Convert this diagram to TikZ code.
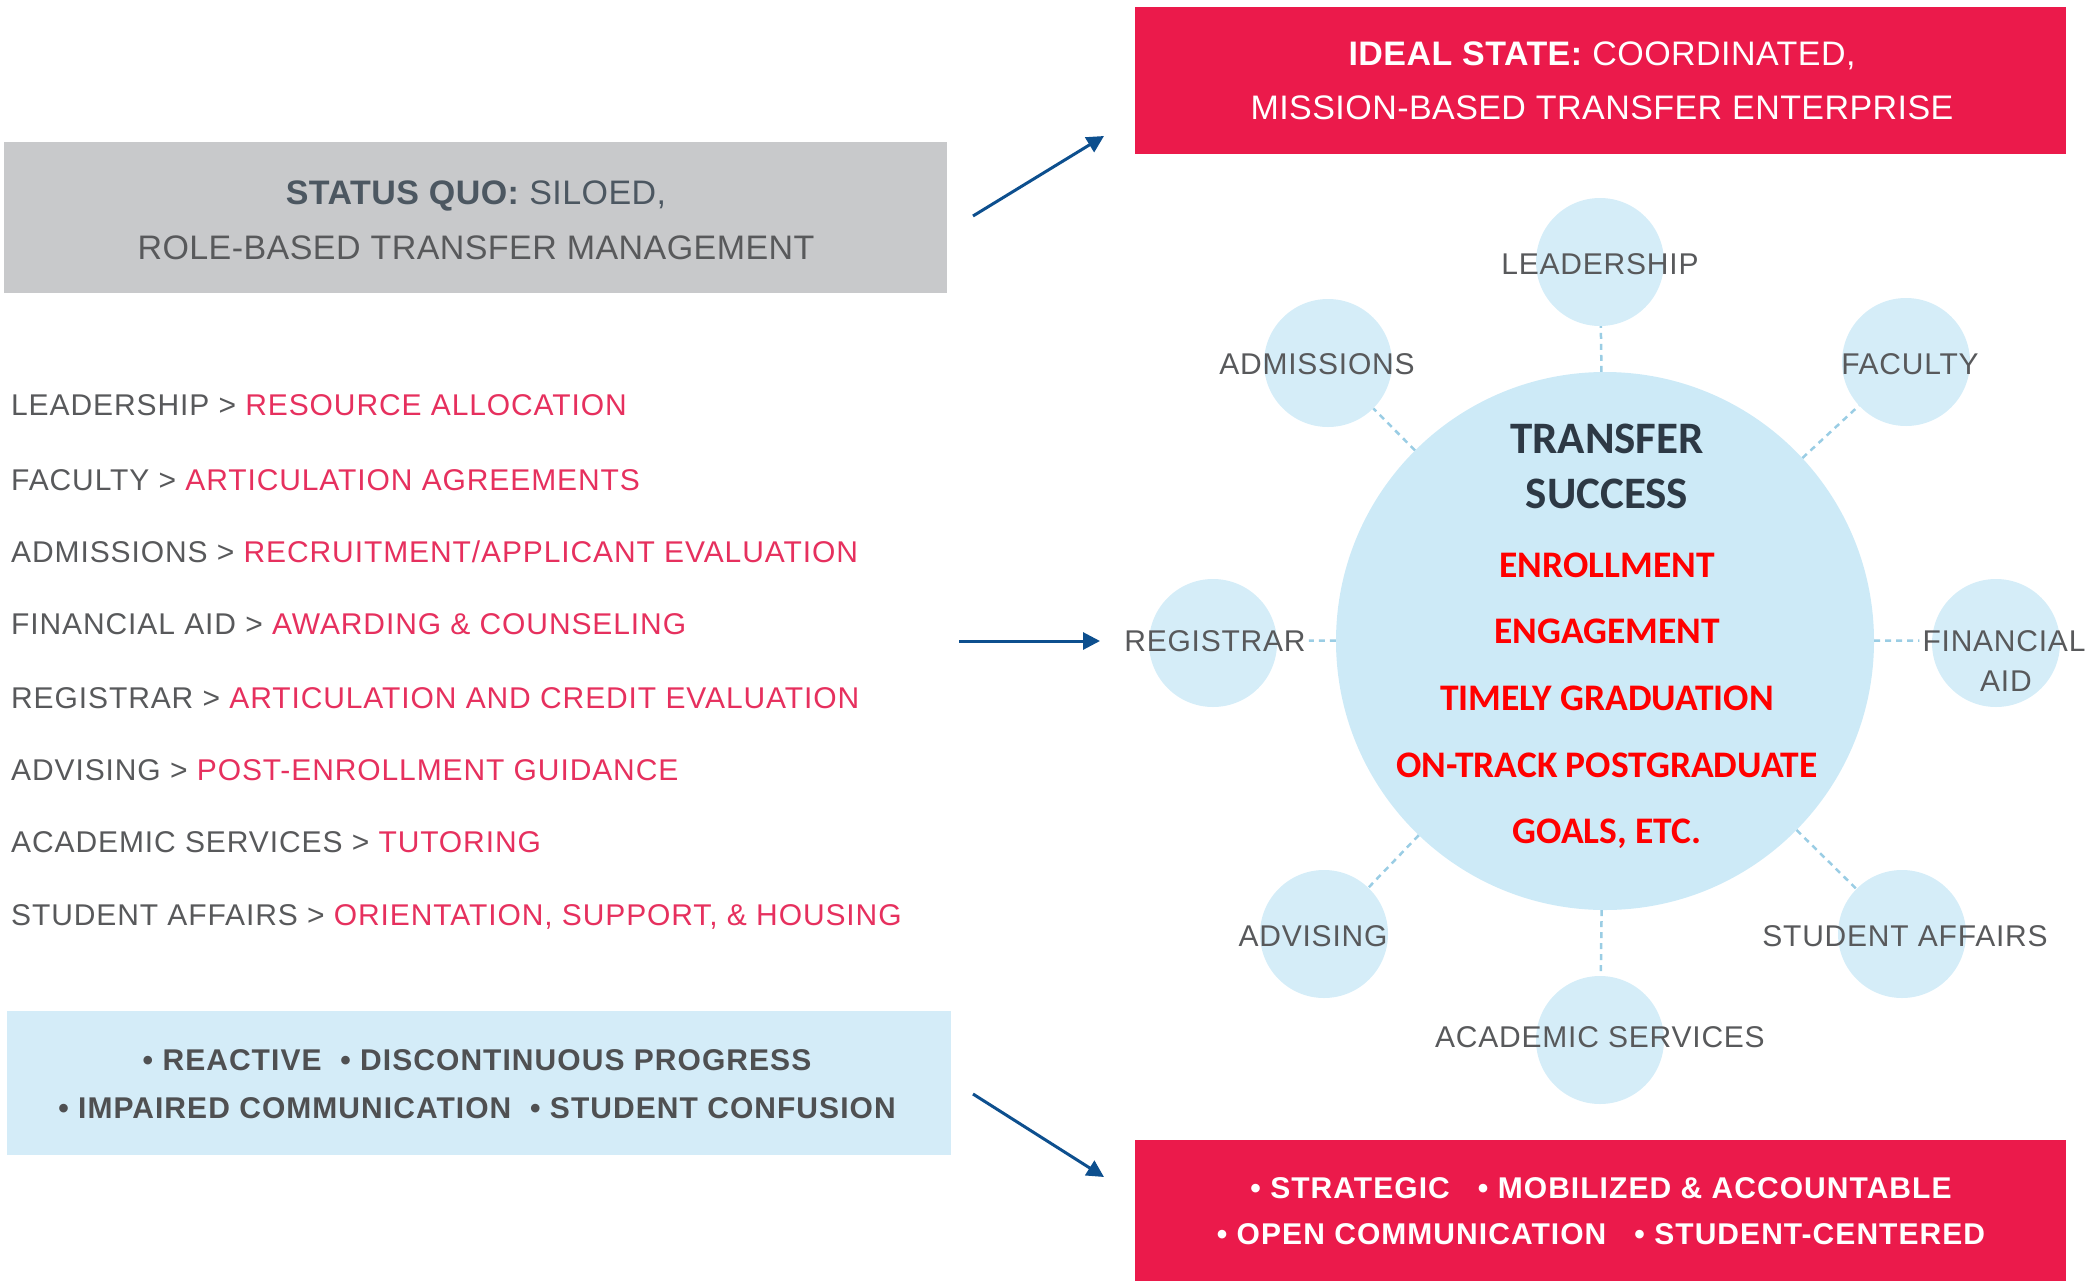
\documentclass[tikz,border=0pt]{standalone}
\usepackage{fontspec}
\setmainfont{Liberation Sans}
\newfontfamily\hubfont{Carlito}
\usetikzlibrary{arrows.meta}

\definecolor{quogray}{HTML}{C8C9CB}
\definecolor{idealred}{HTML}{EB1A4B}
\definecolor{paleblue}{HTML}{D4ECF8}
\definecolor{hubblue}{HTML}{CDEAF7}
\definecolor{satblue}{HTML}{D5EDF8}
\definecolor{linkblue}{HTML}{9ACDE4}
\definecolor{textgray}{HTML}{58595B}
\definecolor{rolered}{HTML}{E6305E}
\definecolor{darkslate}{HTML}{2D3945}
\definecolor{arrowblue}{HTML}{0D4F8E}

\tikzset{
  role/.style={anchor=base west, inner sep=0pt, text=textgray,
    font=\addfontfeature{LetterSpace=3}\fontsize{30}{36}\selectfont},
  head/.style={anchor=base, inner sep=0pt,
    font=\addfontfeature{LetterSpace=1.3}\fontsize{34}{40}\selectfont},
  trait/.style={anchor=base, inner sep=0pt,
    font=\bfseries\addfontfeature{LetterSpace=3.5}\fontsize{30}{36}\selectfont},
  sat/.style={circle, fill=satblue, inner sep=0pt, minimum size=128pt},
  satlabel/.style={anchor=base, inner sep=0pt, text=textgray,
    font=\addfontfeature{LetterSpace=2.6}\fontsize{30}{36}\selectfont},
  goal/.style={anchor=base, inner sep=0pt, text=red,
    font=\hubfont\bfseries\fontsize{37.5}{44}\selectfont},
  link/.style={draw=linkblue, line width=2.5pt, dash pattern=on 6pt off 5pt},
  flow/.style={draw=arrowblue, line width=3pt, -{Triangle[length=17pt,width=17pt]}}
}

\begin{document}
\begin{tikzpicture}[x=1pt, y=-1pt]
    \useasboundingbox (0,0) rectangle (2086,1280);

    % Status quo
    \fill[quogray] (4,142) rectangle (947,293);
    \node[head, text=darkslate!85] (quo1) at (476,204) {\textbf{STATUS QUO:} SILOED,};
    \node[head, text=textgray] (quo2) at (476,259) {ROLE-BASED TRANSFER MANAGEMENT};

    % Ideal state
    \fill[idealred] (1135,7) rectangle (2066,154);
    \node[head, text=white] (ideal1) at (1602,65) {\textbf{IDEAL STATE:} COORDINATED,};
    \node[head, text=white] (ideal2) at (1602,119) {MISSION-BASED TRANSFER ENTERPRISE};

    % Roles and tasks
    \node[role] (r1) at (11,415) {LEADERSHIP > \textcolor{rolered}{RESOURCE ALLOCATION}};
    \node[role] (r2) at (11,490) {FACULTY > \textcolor{rolered}{ARTICULATION AGREEMENTS}};
    \node[role] (r3) at (11,562) {ADMISSIONS > \textcolor{rolered}{RECRUITMENT/APPLICANT EVALUATION}};
    \node[role] (r4) at (11,634) {FINANCIAL AID > \textcolor{rolered}{AWARDING \& COUNSELING}};
    \node[role] (r5) at (11,708) {REGISTRAR > \textcolor{rolered}{ARTICULATION AND CREDIT EVALUATION}};
    \node[role] (r6) at (11,780) {ADVISING > \textcolor{rolered}{POST-ENROLLMENT GUIDANCE}};
    \node[role] (r7) at (11,852) {ACADEMIC SERVICES > \textcolor{rolered}{TUTORING}};
    \node[role] (r8) at (11,925) {STUDENT AFFAIRS > \textcolor{rolered}{ORIENTATION, SUPPORT, \& HOUSING}};

    % Outcomes, status quo
    \fill[paleblue] (7,1011) rectangle (951,1155);
    \node[trait, text=textgray!90!black] (bad1) at (477,1070) {• REACTIVE\ \ • DISCONTINUOUS PROGRESS};
    \node[trait, text=textgray!90!black] (bad2) at (477,1118) {• IMPAIRED COMMUNICATION\ \ • STUDENT CONFUSION};

    % Outcomes, ideal state
    \fill[idealred] (1135,1140) rectangle (2066,1290);
    \node[trait, text=white] (good1) at (1601,1198) {• STRATEGIC\ \ \ • MOBILIZED \& ACCOUNTABLE};
    \node[trait, text=white] (good2) at (1601,1244) {• OPEN COMMUNICATION\ \ \ • STUDENT-CENTERED};

    % Hub
    \node[circle, fill=hubblue, inner sep=0pt, minimum size=538pt] (hub) at (1605,641) {};

    % Satellites
    \node[sat] (lead) at (1600,262) {};
    \node[sat] (adm) at (1328,363) {};
    \node[sat] (fac) at (1906,362) {};
    \node[sat] (reg) at (1213,643) {};
    \node[sat] (fin) at (1996,643) {};
    \node[sat] (adv) at (1324,934) {};
    \node[sat] (stu) at (1902,934) {};
    \node[sat] (aca) at (1600,1040) {};

    \node[satlabel] (leadtext) at (1600,274) {LEADERSHIP};
    \node[satlabel] (admtext) at (1317,374) {ADMISSIONS};
    \node[satlabel] (factext) at (1910,374) {FACULTY};
    \node[satlabel] (regtext) at (1215,651) {REGISTRAR};
    \node[satlabel] (fintext) at (2004,651) {FINANCIAL};
    \node[satlabel] (aidtext) at (2006,691) {AID};
    \node[satlabel] (advtext) at (1313,946) {ADVISING};
    \node[satlabel] (stutext) at (1905,946) {STUDENT AFFAIRS};
    \node[satlabel] (acatext) at (1600,1047) {ACADEMIC SERVICES};

    % Dashed links
    \draw[link] (hub) -- (lead);
    \draw[link] (hub) -- (adm);
    \draw[link] (hub) -- (fac);
    \draw[link, shorten >=3pt] (hub) -- (regtext.east);
    \draw[link, shorten >=3pt] (hub) -- (fintext.west);
    \draw[link] (hub) -- (adv);
    \draw[link] (hub) -- (stu);
    \draw[link] (hub) -- (aca);

    % Hub text
    \node[goal, text=darkslate, font=\hubfont\bfseries\fontsize{45}{54}\selectfont] (ts1) at (1607,453) {TRANSFER};
    \node[goal, text=darkslate, font=\hubfont\bfseries\fontsize{45}{54}\selectfont] (ts2) at (1607,508) {SUCCESS};
    \node[goal] (g1) at (1607,577) {ENROLLMENT};
    \node[goal] (g2) at (1607,643) {ENGAGEMENT};
    \node[goal] (g3) at (1607,710) {TIMELY GRADUATION};
    \node[goal] (g4) at (1607,777) {ON-TRACK POSTGRADUATE};
    \node[goal] (g5) at (1607,843) {GOALS, ETC.};

    % Arrows
    \coordinate (up0) at (973,216);
    \coordinate (up1) at (1104,136);
    \coordinate (mid0) at (959,641);
    \coordinate (mid1) at (1100,641);
    \coordinate (down0) at (973,1094);
    \coordinate (down1) at (1104,1177);
    \draw[flow] (up0) -- (up1);
    \draw[flow] (mid0) -- (mid1);
    \draw[flow] (down0) -- (down1);
\end{tikzpicture}
\end{document}
